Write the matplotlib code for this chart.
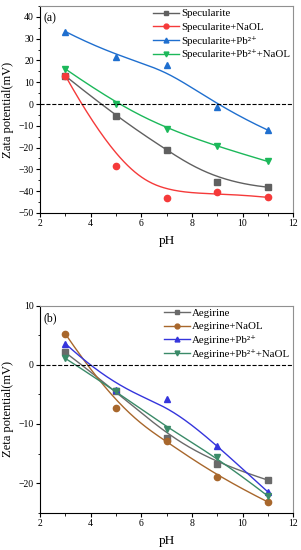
# zeta potential vs pH, two stacked panels (a) specularite, (b) aegirine
import numpy as np
import matplotlib.pyplot as plt
from matplotlib.ticker import MultipleLocator

plt.rcParams['font.family'] = ['Liberation Serif', 'DejaVu Serif']

ph = [3, 5, 7, 9, 11]

# panel (a)
spec = [12.9, -5.7, -21.3, -35.8, -38.2]
spec_naol = [13.0, -28.3, -43.2, -40.6, -42.9]
spec_pb = [33.3, 21.5, 18.0, -1.2, -12.0]
spec_pb_naol = [16.1, 0.1, -11.7, -19.5, -26.4]

# panel (b)
aeg = [2.1, -4.4, -12.3, -16.7, -19.5]
aeg_naol = [5.25, -7.3, -12.9, -18.9, -23.2]
aeg_pb = [3.6, -4.2, -5.8, -13.7, -21.5]
aeg_pb_naol = [1.1, -4.4, -10.8, -15.6, -22.2]


def bspline(xs, ys, n=200):
    # clamped cubic B-spline using the points as control points (Origin style)
    P = np.column_stack([xs, ys]).astype(float)
    k = 3
    m = len(P)
    inner = np.linspace(0, 1, m - k + 1)
    knots = np.concatenate([[0] * k, inner, [1] * k])
    t = np.linspace(0, 1, n)
    t[-1] -= 1e-9

    def basis(i, d, t):
        if d == 0:
            return ((knots[i] <= t) & (t < knots[i + 1])).astype(float)
        a = 0.0
        if knots[i + d] != knots[i]:
            a = (t - knots[i]) / (knots[i + d] - knots[i]) * basis(i, d - 1, t)
        b = 0.0
        if knots[i + d + 1] != knots[i + 1]:
            b = (knots[i + d + 1] - t) / (knots[i + d + 1] - knots[i + 1]) * basis(i + 1, d - 1, t)
        return a + b

    N = np.array([basis(i, k, t) for i in range(m)])
    curve = N.T @ P
    return curve[:, 0], curve[:, 1]


def draw(ax, series, ylim, major, minor, ylabel, tag):
    for ys, color, marker, label in series:
        cx, cy = bspline(ph, ys)
        ax.plot(cx, cy, color=color, lw=1.0)
        ax.plot(ph, ys, ls='none', marker=marker, color=color, ms=4.5)
        ax.plot([], [], color=color, marker=marker, ms=3.5, lw=1.0, label=label)
    ax.axhline(0, color='black', ls='--', lw=0.8)
    ax.set_xlim(2, 12)
    ax.set_ylim(*ylim)
    ax.xaxis.set_major_locator(MultipleLocator(2))
    ax.xaxis.set_minor_locator(MultipleLocator(1))
    ax.yaxis.set_major_locator(MultipleLocator(major))
    ax.yaxis.set_minor_locator(MultipleLocator(minor))
    ax.tick_params(which='both', direction='out', labelsize=7, top=False,
                   right=False, pad=1.5)
    ax.tick_params(which='major', length=3)
    ax.tick_params(which='minor', length=1.8)
    ax.spines['top'].set_color('#909090')
    ax.spines['right'].set_color('#909090')
    ax.set_xlabel('pH', fontsize=9.5, labelpad=5)
    ax.set_ylabel(ylabel, fontsize=9, labelpad=3)
    ax.text(0.015, 0.97, tag, transform=ax.transAxes, fontsize=8.5, va='top', ha='left')
    ax.legend(loc='upper right', frameon=False, fontsize=7.8, handlelength=2.4,
              handletextpad=0.25, labelspacing=0.35, borderaxespad=0.05,
              borderpad=0.2)


fig = plt.figure(figsize=(3.01, 5.5), dpi=100)
ax1 = fig.add_axes([0.133, 0.613, 0.841, 0.376])
ax2 = fig.add_axes([0.133, 0.068, 0.841, 0.376])

sup = 'Pb\u00b2\u207a'
draw(ax1, [
    (spec, '#606060', 's', 'Specularite'),
    (spec_naol, '#f53a3a', 'o', 'Specularite+NaOL'),
    (spec_pb, '#1f6fcf', '^', 'Specularite+' + sup),
    (spec_pb_naol, '#1cb85a', 'v', 'Specularite+' + sup + '+NaOL'),
], (-50, 45), 10, 5, 'Zata potential(mV)', '(a)')

draw(ax2, [
    (aeg, '#6a6a6a', 's', 'Aegirine'),
    (aeg_naol, '#a8672c', 'o', 'Aegirine+NaOL'),
    (aeg_pb, '#3535dc', '^', 'Aegirine+' + sup),
    (aeg_pb_naol, '#3a8a68', 'v', 'Aegirine+' + sup + '+NaOL'),
], (-25, 10), 10, 5, 'Zeta potential(mV)', '(b)')

fig.savefig('out.png', dpi=100)
